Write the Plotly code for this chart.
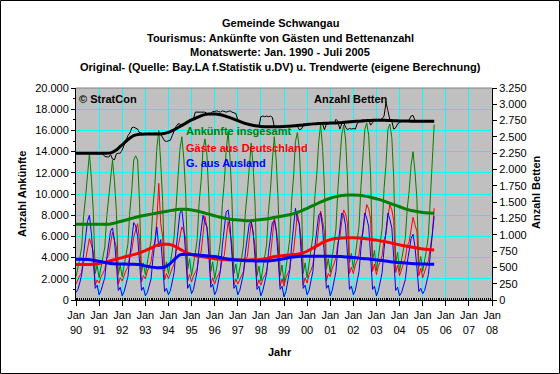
import pandas as pd
import plotly.graph_objects as go

# ---------------- data ----------------
start_month = "1990-01-01"   # monthly values Jan 1990 .. Jul 2005
n_months = 187

# Ankünfte insgesamt (total arrivals)
total = [
    2200, 3000, 3900, 5000, 7900, 9700, 12100, 13800, 11500, 8400, 2500, 3300,   # 1990
    2100, 3100, 3900, 5000, 7800, 9500, 11800, 13200, 11200, 8400, 2400, 3300,   # 1991
    2200, 3200, 4200, 5300, 8400, 10400, 13200, 13600, 13200, 9200, 2600, 3500,  # 1992
    2400, 3400, 4500, 5600, 8800, 10900, 14300, 16000, 12900, 9400, 2700, 3600,  # 1993
    2500, 3500, 4600, 6000, 9400, 11600, 14200, 15400, 13300, 10000, 2900, 3900, # 1994
    2300, 3300, 4400, 5800, 9200, 11200, 14200, 15200, 13700, 9800, 2700, 3600,  # 1995
    2000, 3000, 4100, 5500, 9000, 11100, 14100, 15900, 13300, 9400, 2500, 3400,  # 1996
    2000, 2900, 3900, 5200, 8300, 10200, 12800, 14800, 12600, 9000, 2300, 3200,  # 1997
    1800, 2900, 3900, 5200, 8400, 10400, 13200, 15400, 13100, 9300, 2300, 3300,  # 1998
    1600, 2900, 4200, 5700, 9300, 11600, 14950, 15800, 14200, 10100, 2500, 3500, # 1999
    2100, 3300, 4500, 6000, 9600, 11800, 14800, 16600, 14400, 10600, 2900, 3900, # 2000
    2600, 3900, 5100, 6700, 10400, 12700, 15600, 16500, 15100, 11400, 3500, 4400,# 2001
    3000, 4200, 5400, 7000, 10700, 13000, 16100, 16700, 15500, 11700, 3700, 4700,# 2002
    2800, 4100, 5200, 6800, 10500, 12800, 16100, 16600, 15300, 11500, 3500, 4500,# 2003
    2700, 3700, 4600, 5800, 8600, 10300, 12700, 14000, 12100, 9600, 3100, 4100,  # 2004
    2700, 3700, 4700, 6100, 9300, 12200, 16550,                                  # 2005
]

# Gäste aus Deutschland
germany = [
    1500, 2000, 2300, 2600, 3600, 3800, 4700, 5800, 5200, 4600, 1400, 1900,
    1600, 2200, 2500, 2900, 3900, 4200, 5300, 6400, 5600, 5000, 1500, 2100,
    1800, 2400, 2800, 3100, 4300, 4700, 5900, 6600, 7200, 5600, 1700, 2300,
    2000, 2700, 3200, 3600, 4900, 5500, 7400, 11000, 7200, 6000, 1900, 2500,
    2000, 2600, 3000, 3400, 4600, 5000, 6000, 6900, 6500, 5800, 1800, 2400,
    1700, 2300, 2600, 3000, 4200, 4500, 6200, 7900, 6800, 5500, 1500, 2100,
    1500, 2100, 2400, 2800, 3900, 4200, 5800, 7400, 6300, 5200, 1400, 2000,
    1500, 2000, 2300, 2700, 3800, 4100, 5600, 7400, 6200, 5100, 1300, 1900,
    1400, 2000, 2300, 2700, 3900, 4200, 5900, 7900, 6600, 5300, 1300, 2000,
    1300, 2100, 2500, 2900, 4200, 4600, 6300, 8200, 7000, 5800, 1400, 2100,
    1600, 2400, 2800, 3300, 4700, 5100, 6800, 8400, 7500, 6400, 1800, 2500,
    2200, 3000, 3400, 4000, 5400, 5900, 7400, 8500, 8100, 7200, 2500, 3100,
    2500, 3300, 3700, 4300, 5800, 6300, 7900, 9000, 8600, 7600, 2700, 3400,
    2400, 3200, 3600, 4200, 5700, 6200, 7900, 9000, 8500, 7500, 2600, 3300,
    2300, 3000, 3400, 3900, 5100, 5500, 6900, 7800, 7100, 6500, 2300, 3000,
    2100, 2800, 3200, 3700, 5000, 6200, 8650,
]

# G. aus Ausland
foreign = [
    700, 1000, 1600, 2400, 4300, 5900, 7400, 8000, 6300, 3800, 1100, 1400,
    500, 900, 1400, 2100, 3900, 5300, 6500, 6800, 5600, 3400, 900, 1200,
    400, 800, 1400, 2200, 4100, 5700, 7300, 7000, 6000, 3600, 900, 1200,
    400, 700, 1300, 2000, 3900, 5400, 6900, 5000, 5700, 3400, 800, 1100,
    500, 900, 1600, 2600, 4800, 6600, 8200, 8500, 6800, 4200, 1100, 1500,
    600, 1000, 1800, 2800, 5000, 6700, 8000, 7300, 6900, 4300, 1200, 1500,
    500, 900, 1700, 2700, 5100, 6900, 8300, 8500, 7000, 4200, 1100, 1400,
    500, 900, 1600, 2500, 4500, 6100, 7200, 7400, 6400, 3900, 1000, 1300,
    400, 900, 1600, 2500, 4500, 6200, 7300, 7500, 6500, 4000, 1000, 1300,
    300, 800, 1700, 2800, 5100, 7000, 8650, 7600, 7200, 4300, 1100, 1400,
    500, 900, 1700, 2700, 4900, 6700, 8000, 8200, 6900, 4200, 1100, 1400,
    400, 900, 1700, 2700, 5000, 6800, 8200, 8000, 7000, 4200, 1000, 1300,
    500, 900, 1700, 2700, 4900, 6700, 8200, 7700, 6900, 4100, 1000, 1300,
    400, 900, 1600, 2600, 4800, 6600, 8200, 7600, 6800, 4000, 900, 1200,
    400, 700, 1200, 1900, 3500, 4800, 5800, 6200, 5000, 3100, 800, 1100,
    600, 900, 1500, 2400, 4300, 6000, 7900,
]

# Anzahl Betten (right axis)
beds = [
    2250, 2250, 2250, 2250, 2250, 2250, 2250, 2250, 2250, 2250, 2250, 2250,
    2250, 2250, 2240, 2200, 2200, 2190, 2230, 2160, 2150, 2240, 2250, 2250,
    2300, 2380, 2460, 2520, 2560, 2640, 2650, 2640, 2620, 2560, 2560, 2540,
    2540, 2550, 2560, 2550, 2540, 2560, 2560, 2550, 2540, 2480, 2440, 2430,
    2440, 2450, 2520, 2600, 2660, 2700, 2700, 2660, 2680, 2720, 2740, 2760,
    2760, 2780, 2880, 2880, 2870, 2880, 2870, 2880, 2860, 2850, 2860, 2890,
    2890, 2900, 2890, 2880, 2900, 2890, 2880, 2890, 2900, 2880, 2870, 2860,
    2760, 2730, 2720, 2700, 2690, 2700, 2690, 2680, 2670, 2670, 2660, 2660,
    2810, 2820, 2810, 2820, 2810, 2820, 2800, 2660, 2650, 2650, 2660, 2650,
    2660, 2660, 2650, 2660, 2670, 2660, 2670, 2660, 2610, 2620, 2670, 2670,
    2680, 2690, 2700, 2690, 2700, 2700, 2710, 2700, 2700, 2610, 2700, 2710,
    2710, 2720, 2700, 2770, 2740, 2620, 2700, 2720, 2650, 2610, 2630, 2620,
    2630, 2620, 2700, 2740, 2750, 2760, 2750, 2740, 2760, 2680, 2720, 2760,
    2760, 2770, 2760, 2780, 2820, 3030, 2900, 2760, 2740, 2620, 2640, 2700,
    2720, 2740, 2740, 2750, 2740, 2760, 2820, 2830, 2750, 2740, 2750, 2740,
    2740, 2740, 2750, 2740, 2740, 2740, 2740,
]

# Trend values, quarterly (Jan/Apr/Jul/Oct) 1990 .. Jul 2005
n_quarters = 63
trend_total = [
    7150, 7150, 7150, 7150,  7150, 7150, 7180, 7300,  7450, 7600, 7750, 7900,
    8000, 8100, 8200, 8300,  8400, 8500, 8550, 8550,  8500, 8400, 8250, 8100,
    7950, 7800, 7700, 7600,  7550, 7500, 7480, 7520,  7600, 7650, 7750, 7850,
    7950, 8050, 8200, 8400,  8650, 8900, 9150, 9400,  9600, 9750, 9850, 9900,
    9900, 9880, 9800, 9700,  9550, 9400, 9200, 9000,  8800, 8600, 8450, 8350,
    8250, 8200, 8180,
]
trend_germany = [
    3350, 3350, 3350, 3380,  3450, 3550, 3700, 3850,  4000, 4150, 4280, 4450,
    4650, 4900, 5150, 5250,  5250, 5100, 4800, 4500,  4300, 4150, 4080, 4000,
    3900, 3850, 3800, 3780,  3770, 3770, 3780, 3800,  3830, 3900, 4050, 4150,
    4200, 4250, 4300, 4400,  4600, 4900, 5200, 5500,  5700, 5800, 5850, 5870,
    5870, 5850, 5800, 5720,  5650, 5550, 5450, 5320,  5200, 5100, 5000, 4900,
    4820, 4760, 4720,
]
trend_foreign = [
    3850, 3850, 3820, 3750,  3650, 3550, 3450, 3400,  3390, 3380, 3370, 3340,
    3220, 3100, 3050, 3060,  3300, 3800, 4250, 4320,  4300, 4250, 4200, 4150,
    4100, 4000, 3900, 3820,  3770, 3730, 3700, 3690,  3680, 3690, 3720, 3800,
    3900, 4000, 4080, 4120,  4130, 4130, 4120, 4120,  4120, 4110, 4100, 4050,
    4000, 3950, 3900, 3850,  3780, 3720, 3650, 3580,  3530, 3480, 3440, 3410,
    3390, 3380, 3370,
]
trend_beds = [
    2250, 2250, 2250, 2250,  2250, 2250, 2255, 2300,  2380, 2460, 2520, 2540,
    2545, 2545, 2545, 2550,  2570, 2610, 2660, 2710,  2760, 2800, 2835, 2850,
    2850, 2840, 2815, 2785,  2750, 2715, 2690, 2670,  2660, 2655, 2655, 2655,
    2660, 2665, 2670, 2680,  2690, 2700, 2705, 2710,  2712, 2715, 2720, 2728,
    2735, 2742, 2748, 2752,  2755, 2755, 2752, 2748,  2745, 2743, 2742, 2742,
    2742, 2742, 2742,
]

title_lines = [
    "Gemeinde Schwangau",
    "Tourismus: Ankünfte von Gästen und Bettenanzahl",
    "Monatswerte: Jan. 1990 - Juli 2005",
    "Original- (Quelle: Bay.LA f.Statistik u.DV) u. Trendwerte (eigene Berechnung)",
]

months = pd.date_range(start_month, periods=n_months, freq="MS")
quarters = pd.date_range(start_month, periods=n_quarters, freq="3MS")

GREEN, RED, BLUE, BLACK = "#008000", "#FF0000", "#0000FF", "#000000"
FONT = "Liberation Sans, Arial, sans-serif"

fig = go.Figure()
thin = [(total, GREEN, "y"), (germany, RED, "y"), (foreign, BLUE, "y"), (beds, BLACK, "y2")]
for vals, col, ax in thin:
    fig.add_trace(go.Scatter(x=months, y=vals, mode="lines", yaxis=ax,
                             line=dict(color=col, width=1), showlegend=False, hoverinfo="skip"))
thick = [(trend_total, GREEN, "y"), (trend_germany, RED, "y"), (trend_foreign, BLUE, "y"), (trend_beds, BLACK, "y2")]
for vals, col, ax in thick:
    fig.add_trace(go.Scatter(x=quarters, y=vals, mode="lines", yaxis=ax,
                             line=dict(color=col, width=3, shape="spline", smoothing=0.6),
                             showlegend=False, hoverinfo="skip"))

L, R, T, B = 76, 68, 88, 74
W, H = 560, 374
PW, PH = W - L - R, H - T - B


def px(x):
    return (x - L) / PW


def py(y):
    return (H - B - y) / PH


annotations = []
for i, (txt, yy) in enumerate(zip(title_lines, [23, 38, 52, 67])):
    annotations.append(dict(text="<b>%s</b>" % txt, x=px(280), y=py(yy), xref="paper", yref="paper",
                            xanchor="center", yanchor="middle", showarrow=False,
                            font=dict(family=FONT, size=11, color="black")))
inside = [("© StratCon", 77, 99, BLACK), ("Anzahl Betten", 312, 99, BLACK),
          ("Ankünfte insgesamt", 184, 131, GREEN), ("Gäste aus Deutschland", 184, 148, RED),
          ("G. aus Ausland", 184, 163, BLUE)]
for txt, xx, yy, col in inside:
    annotations.append(dict(text="<b>%s</b>" % txt, x=px(xx), y=py(yy), xref="paper", yref="paper",
                            xanchor="left", yanchor="middle", showarrow=False,
                            font=dict(family=FONT, size=11, color=col)))
annotations.append(dict(text="<b>Anzahl Ankünfte</b>", x=px(22), y=py(194), xref="paper", yref="paper",
                        textangle=-90, xanchor="center", yanchor="middle", showarrow=False,
                        font=dict(family=FONT, size=11, color="black")))
annotations.append(dict(text="<b>Anzahl Betten</b>", x=px(536), y=py(192), xref="paper", yref="paper",
                        textangle=-90, xanchor="center", yanchor="middle", showarrow=False,
                        font=dict(family=FONT, size=11, color="black")))
annotations.append(dict(text="<b>Jahr</b>", x=px(280), y=py(352), xref="paper", yref="paper",
                        xanchor="center", yanchor="middle", showarrow=False,
                        font=dict(family=FONT, size=11, color="black")))

shapes = [
    dict(type="rect", xref="paper", yref="paper", x0=px(0.5), x1=px(559.5), y0=py(373.5), y1=py(0.5),
         line=dict(color="black", width=1), layer="above"),
    dict(type="line", xref="paper", yref="paper", x0=0, x1=1, y0=1, y1=1,
         line=dict(color="#808080", width=1), layer="above"),
]

fig.update_layout(
    width=W, height=H,
    margin=dict(l=L, r=R, t=T, b=B, pad=0),
    paper_bgcolor="white", plot_bgcolor="#C0C0C0",
    separators=",.",
    font=dict(family=FONT, size=11, color="black"),
    annotations=annotations, shapes=shapes,
    xaxis=dict(type="date", range=["1990-01-01", "2008-01-01"], tick0="1990-01-01", dtick="M12",
               tickformat="%b<br>%y", ticks="outside", ticklen=5, tickcolor="black",
               showgrid=True, gridcolor="#00FFFF", gridwidth=1, zeroline=False,
               showline=True, linecolor="black", linewidth=1,
               minor=dict(ticks="inside", ticklen=2, dtick="M1", tickcolor="black", showgrid=False),
               tickfont=dict(size=11)),
    yaxis=dict(range=[0, 20000], dtick=2000, tickformat=",d", ticks="outside", ticklen=4,
               tickcolor="black", showgrid=True, gridcolor="#00FFFF", gridwidth=1, zeroline=False,
               showline=True, linecolor="black", linewidth=1,
               minor=dict(ticks="outside", ticklen=2, dtick=1000, tickcolor="black", showgrid=False),
               tickfont=dict(size=11)),
    yaxis2=dict(range=[0, 3250], dtick=250, tickformat=",d", overlaying="y", side="right",
                ticks="outside", ticklen=4, tickcolor="black", showgrid=False, zeroline=False,
                showline=True, linecolor="black", linewidth=1, tickfont=dict(size=11)),
)

fig.write_html("out.html", config={"displayModeBar": False},
               post_script="document.body.style.margin='0';document.body.style.overflow='hidden';")
